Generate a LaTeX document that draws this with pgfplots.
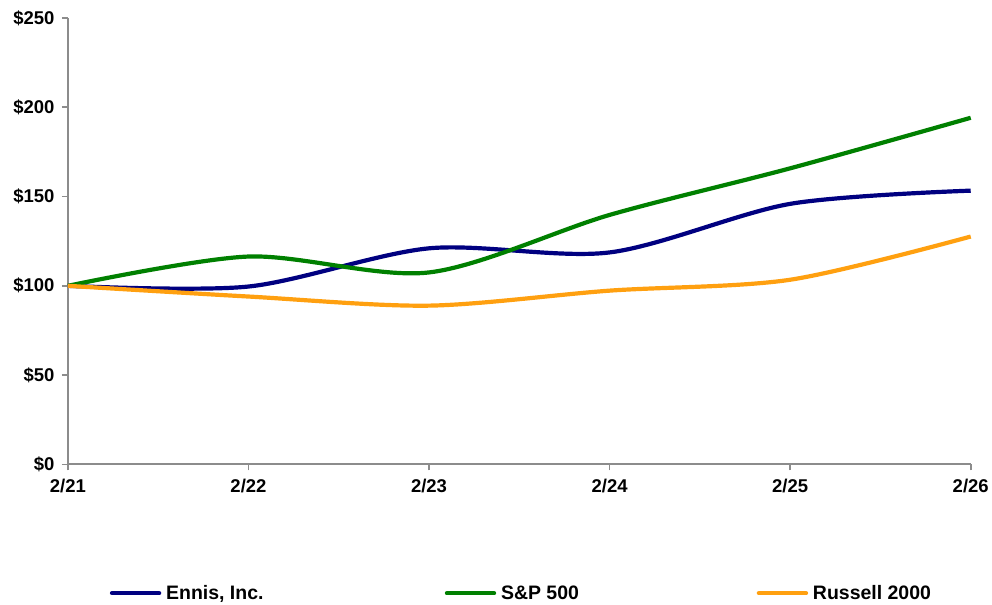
\documentclass[border=0pt]{standalone}
\usepackage{pgfplots}
\pgfplotsset{compat=1.18}
\usepackage{fontspec}
\setmainfont{Liberation Sans}
\definecolor{ennis}{RGB}{0,0,128}
\definecolor{spx}{RGB}{0,128,0}
\definecolor{rut}{RGB}{255,160,16}
\definecolor{axgray}{RGB}{140,140,140}
\begin{document}
\begin{tikzpicture}
\begin{axis}[
  scale only axis,
  width=904bp, height=447bp,
  xmin=0, xmax=5, ymin=0, ymax=250,
  axis lines=left,
  axis line style={axgray, line width=2bp, -},
  every tick/.style={axgray, line width=1.6bp},
  tick align=outside,
  major tick length=6bp,
  xtick={0,1,2,3,4,5},
  xticklabels={2/21,2/22,2/23,2/24,2/25,2/26},
  ytick={0,50,100,150,200,250},
  yticklabels={\$0,\$50,\$100,\$150,\$200,\$250},
  tick label style={font=\fontsize{18.5bp}{21bp}\selectfont\bfseries, black},
  xticklabel style={yshift=-5bp},
  yticklabel style={xshift=-4bp},
  clip=false,
  legend columns=3,
  legend style={at={(0.0465,-0.2886)}, anchor=west, draw=none, fill=none,
    inner sep=0pt, outer sep=0pt, column sep=0pt,
    nodes={inner sep=0pt, outer sep=0pt},
    font=\fontsize{19.5bp}{22bp}\selectfont\bfseries},
  legend image code/.code={\draw[line width=4.5bp, line cap=round, #1] (0bp,0bp)--(47bp,0bp); \path (52bp,0bp);},
]
\addplot[ennis, line width=4.2bp, smooth] coordinates {(0,100) (1,99.6) (2,121) (3,118.7) (4,145.9) (5,153.3)};
\addlegendentry{\makebox[279bp][l]{Ennis, Inc.}}
\addplot[spx, line width=4.2bp, smooth] coordinates {(0,100) (1,116.4) (2,107.5) (3,139.7) (4,165.8) (5,194.1)};
\addlegendentry{\makebox[256bp][l]{S\&P 500}}
\addplot[rut, line width=4.2bp, smooth] coordinates {(0,100) (1,94) (2,88.9) (3,97.3) (4,103.4) (5,127.6)};
\addlegendentry{Russell 2000}
\end{axis}
\path[use as bounding box] (-68bp,-140bp) rectangle (924bp,465bp);
\end{tikzpicture}
\end{document}
